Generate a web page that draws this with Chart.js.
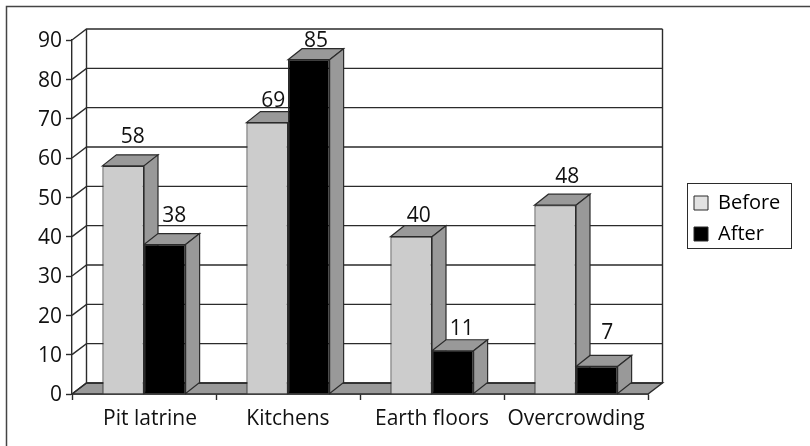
<!DOCTYPE html>
<html>
<head>
<meta charset="utf-8">
<style>
  html, body { margin: 0; padding: 0; background: #fff; }
  #wrap { position: relative; width: 810px; height: 446px; }
</style>
</head>
<body>
<div id="wrap"><canvas id="chart" width="810" height="446"></canvas></div>
<script src="https://cdn.jsdelivr.net/npm/chart.js@4"></script>
<script>
const categories = ['Pit latrine', 'Kitchens', 'Earth floors', 'Overcrowding'];
const beforeValues = [58, 69, 40, 48];
const afterValues = [38, 85, 11, 7];
const yTicks = [0, 10, 20, 30, 40, 50, 60, 70, 80, 90];

// value labels are hand placed in the original, so each one gets its own nudge
const labelNudgeX = [[9.5, 6.1, 7.5, 12], [9.5, 7.2, 8.9, 10.5]];
const labelLift = [[22.6, 15.3, 15, 22.5], [22.8, 12.4, 15.7, 27.2]];

const FONT = '"Open Sans", sans-serif';
const LINE = '#2b2b2b';
const SIDE = '#999999';
const DEPTH_X = 14.5;
const DEPTH_Y = 11;
const BAR_DEPTH_X = 14;
const LEGEND_BOX = { left: 687, top: 183, width: 104, height: 65 };

function poly(ctx, pts, fill) {
  ctx.beginPath();
  pts.forEach((p, i) => i ? ctx.lineTo(p[0], p[1]) : ctx.moveTo(p[0], p[1]));
  ctx.closePath();
  if (fill) {
    ctx.fillStyle = fill;
    ctx.fill();
  }
  ctx.stroke();
}

const threeD = {
  id: 'threeD',
  afterLayout(chart) {
    // legend sits away from the plot; keep bottom roomy or it wraps to a second column
    const l = chart.legend;
    l.left = 683; l.right = 791; l.top = 182; l.bottom = 300;
    l.width = 108; l.height = 118;
  },
  beforeDraw(chart) {
    const ctx = chart.ctx;
    ctx.save();
    ctx.fillStyle = '#fff';
    ctx.fillRect(0, 0, chart.width, chart.height);
    // page frame, runs off the picture on the right and bottom
    ctx.strokeStyle = '#444';
    ctx.lineWidth = 1.5;
    ctx.beginPath();
    ctx.moveTo(6.5, 446);
    ctx.lineTo(6.5, 6.5);
    ctx.lineTo(810, 6.5);
    ctx.stroke();
    ctx.strokeStyle = LINE;
    ctx.lineWidth = 1;
    ctx.strokeRect(LEGEND_BOX.left + 0.5, LEGEND_BOX.top + 0.5, LEGEND_BOX.width, LEGEND_BOX.height);
    ctx.restore();

    // small label shifts: first x label sits off centre, y labels sit a bit low
    const xItems = chart.scales.x.getLabelItems();
    if (xItems[0] && !xItems[0].moved) {
      xItems[0].options.translation[0] += 6;
      xItems[0].moved = true;
    }
    chart.scales.y.getLabelItems().forEach((item) => {
      if (!item.moved) {
        item.options.translation[1] += 1.5;
        item.moved = true;
      }
    });
  },
  beforeDatasetsDraw(chart) {
    const ctx = chart.ctx;
    const { left, right } = chart.chartArea;
    const y = chart.scales.y;
    ctx.save();
    ctx.strokeStyle = LINE;
    ctx.lineWidth = 1.4;
    // floor
    const y0 = y.getPixelForValue(0);
    poly(ctx, [[left, y0], [left + DEPTH_X, y0 - DEPTH_Y], [right + DEPTH_X, y0 - DEPTH_Y], [right, y0]], SIDE);
    // back wall lines and the slanted tick extensions
    yTicks.forEach((v) => {
      const p = y.getPixelForValue(v);
      ctx.beginPath();
      ctx.moveTo(left, p);
      ctx.lineTo(left + DEPTH_X, p - DEPTH_Y);
      ctx.lineTo(right + DEPTH_X, p - DEPTH_Y);
      ctx.stroke();
    });
    const top = y.getPixelForValue(90) - DEPTH_Y;
    ctx.beginPath();
    ctx.moveTo(left + DEPTH_X, y0 - DEPTH_Y);
    ctx.lineTo(left + DEPTH_X, top);
    ctx.moveTo(right + DEPTH_X, y0 - DEPTH_Y);
    ctx.lineTo(right + DEPTH_X, top);
    ctx.stroke();

    // top and side faces of the bars, first series first so the second overlaps it
    ctx.lineWidth = 1.2;
    chart.data.datasets.forEach((ds, i) => {
      chart.getDatasetMeta(i).data.forEach((bar) => {
        const half = bar.width / 2;
        const l = bar.x - half, r = bar.x + half;
        const t = bar.y, b = bar.base;
        poly(ctx, [[l, t], [l + BAR_DEPTH_X, t - DEPTH_Y], [r + BAR_DEPTH_X, t - DEPTH_Y], [r, t]], SIDE);
        poly(ctx, [[r, t], [r + BAR_DEPTH_X, t - DEPTH_Y], [r + BAR_DEPTH_X, b - DEPTH_Y], [r, b]], SIDE);
      });
    });
    ctx.restore();
  },
  afterDatasetsDraw(chart) {
    const ctx = chart.ctx;
    ctx.save();
    ctx.fillStyle = '#111';
    ctx.font = '21px ' + FONT;
    ctx.textAlign = 'center';
    ctx.textBaseline = 'alphabetic';
    chart.data.datasets.forEach((ds, i) => {
      chart.getDatasetMeta(i).data.forEach((bar, j) => {
        ctx.fillText(String(ds.data[j]), bar.x + labelNudgeX[i][j], bar.y - labelLift[i][j]);
      });
    });
    ctx.restore();
  }
};

new Chart(document.getElementById('chart'), {
  type: 'bar',
  data: {
    labels: categories,
    datasets: [
      { label: 'Before', data: beforeValues, backgroundColor: '#cccccc', borderColor: LINE, borderWidth: 1.2 },
      { label: 'After', data: afterValues, backgroundColor: '#000000', borderColor: LINE, borderWidth: 1.2 }
    ]
  },
  plugins: [threeD],
  options: {
    responsive: false,
    animation: false,
    events: [],
    layout: { padding: { top: 40, right: 162, bottom: 0, left: 0 } },
    datasets: { bar: { categoryPercentage: 0.578, barPercentage: 1 } },
    plugins: {
      tooltip: { enabled: false },
      legend: {
        position: 'chartArea',
        align: 'start',
        labels: {
          color: '#111',
          font: { family: FONT, size: 20 },
          boxWidth: 14,
          boxHeight: 14,
          padding: 11,
          generateLabels(chart) {
            return chart.data.datasets.map((ds, i) => ({
              text: ds.label,
              fillStyle: i === 0 ? '#e2e2e2' : '#000000',
              strokeStyle: LINE,
              lineWidth: 1,
              datasetIndex: i
            }));
          }
        }
      }
    },
    scales: {
      x: {
        afterFit(scale) { scale.height = 52; },
        grid: { drawOnChartArea: false, tickLength: 6, tickColor: LINE, tickWidth: 1.4, offset: true },
        border: { color: '#111', width: 1.6 },
        ticks: { color: '#111', font: { family: FONT, size: 21 }, padding: 6, maxRotation: 0 }
      },
      y: {
        min: 0,
        max: 90,
        afterFit(scale) { scale.width = 72; },
        grid: { drawOnChartArea: false, tickLength: 6, tickColor: LINE, tickWidth: 1.4 },
        border: { color: LINE, width: 1.4 },
        ticks: { stepSize: 10, color: '#111', font: { family: FONT, size: 21 }, padding: 4 }
      }
    }
  }
});
</script>
</body>
</html>
